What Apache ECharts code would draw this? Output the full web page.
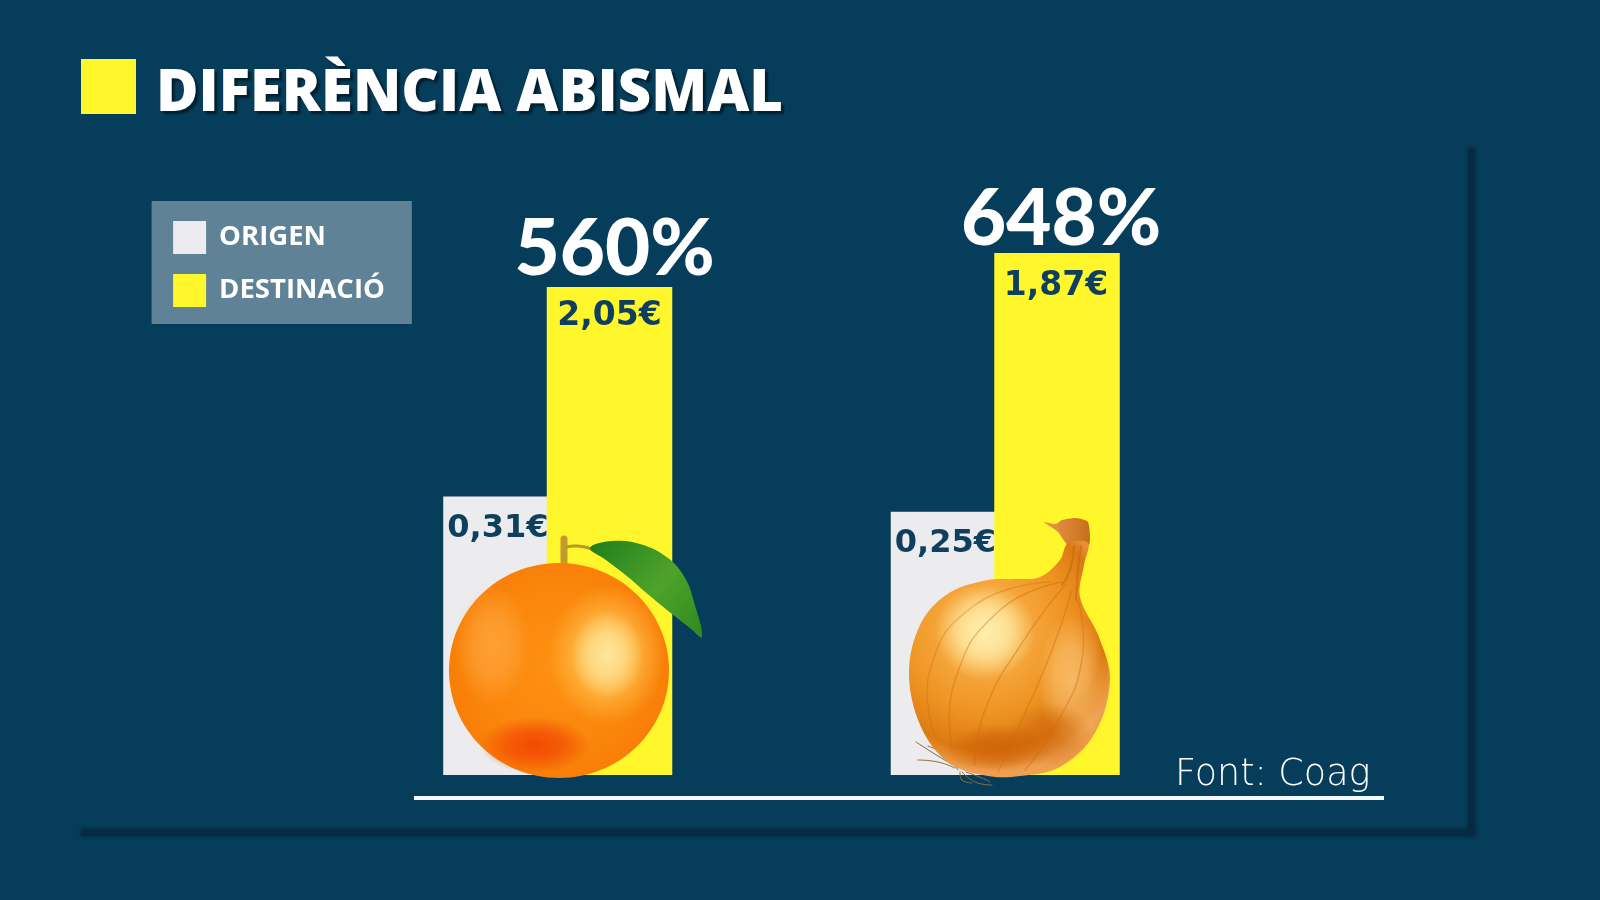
<!DOCTYPE html>
<html>
<head>
    <meta charset="utf-8">
    <script src="https://cdn.jsdelivr.net/npm/echarts@6/dist/echarts.min.js"></script>
    <style>
        html, body { margin: 0; padding: 0; background: #063d5a; }
    </style>
</head>

<body>
    <div id="main" style="width: 1600px;height:900px;"></div>
    <script type="text/javascript">
        var productes = ['Taronja', 'Ceba'];
        // the bars in the original are not drawn to scale, so the height and the printed price are separate
        var origenAlcada = [1.17, 1.106];
        var destinacioAlcada = [2.05, 2.193];
        var origenPreu = ['0,31€', '0,25€'];
        var destinacioPreu = ['2,05€', '1,87€'];
        var diferencia = ['560%', '648%'];

        var fons = '#063d5a', blau = '#0f3f5e', groc = '#fff72c', gris = '#ececee', ombra = '#032b43';

        function radial(x, y, r, stops) {
            return {
                type: 'radial', x: x, y: y, r: r, global: false,
                colorStops: stops.map(function (s) { return { offset: s[0], color: s[1] }; })
            };
        }

        // soft highlight: a circle stretched so the gradient stretches with it
        function blob(cx, cy, rx, ry, color) {
            return {
                type: 'circle', z: 10, silent: true,
                x: cx, y: cy, scaleX: rx / ry,
                shape: { cx: 0, cy: 0, r: ry },
                style: { fill: radial(0.5, 0.5, 0.5, [[0, color], [0.5, color.replace(/[\d.]+\)$/, function (a) { return parseFloat(a) * 0.7 + ')'; })], [1, color.replace(/[\d.]+\)$/, '0)')]]) }
            };
        }

        function linia(points, color, width) {
            return {
                type: 'polyline', z: 10, silent: true,
                shape: { points: points, smooth: 0.5 },
                style: { fill: null, stroke: color, lineWidth: width, lineCap: 'round' }
            };
        }

        function forma(points, fill, smooth) {
            return {
                type: 'polygon', z: 10, silent: true,
                shape: { points: points, smooth: smooth },
                style: { fill: fill }
            };
        }

        // decoration: frame shadow, baseline, title square
        var marc = [
            { type: 'rect', z: 1, silent: true, shape: { x: 1468, y: 148, width: 7, height: 688 }, style: { fill: ombra, shadowBlur: 4, shadowColor: ombra } },
            { type: 'rect', z: 1, silent: true, shape: { x: 81, y: 829, width: 1394, height: 7 }, style: { fill: ombra, shadowBlur: 4, shadowColor: ombra } },
            { type: 'rect', z: 3, silent: true, shape: { x: 414, y: 796, width: 970, height: 4 }, style: { fill: '#f2f7f8' } },
            { type: 'rect', z: 3, silent: true, shape: { x: 81, y: 59, width: 55, height: 55 }, style: { fill: groc } }
        ];

        var taronja = [
            // stem and twig
            linia([[564, 539], [564, 566]], '#c39a2b', 7),
            linia([[566, 547], [578, 546], [592, 549]], '#b59a2a', 3),
            // leaf
            forma([[590, 548], [612, 541], [640, 544], [668, 558], [685, 578], [694, 602], [702, 637], [690, 628], [672, 614], [650, 596], [628, 577], [606, 560]],
                { type: 'linear', x: 0, y: 0, x2: 1, y2: 1, colorStops: [{ offset: 0, color: '#1f7d1c' }, { offset: 0.55, color: '#4ea32a' }, { offset: 1, color: '#2e8a1f' }] }, 0.4),
            // fruit
            {
                type: 'ellipse', z: 10, silent: true,
                shape: { cx: 559, cy: 670.5, rx: 110, ry: 107.5 },
                style: { fill: radial(0.5, 0.48, 0.56, [[0, '#fd9112'], [0.65, '#fb860c'], [0.9, '#f97f08'], [1, '#f47a08']]) }
            },
            blob(607, 655, 58, 70, 'rgba(255,205,90,0.85)'),
            blob(607, 655, 36, 44, 'rgba(255,238,175,0.8)'),
            blob(492, 645, 38, 60, 'rgba(255,178,80,0.6)'),
            blob(535, 745, 55, 28, 'rgba(240,60,0,0.8)')
        ];

        var ceba = [
            // roots
            linia([[955, 766], [938, 756], [916, 742]], '#8a6a48', 1),
            linia([[955, 768], [938, 762], [918, 760]], '#8a6a48', 1),
            linia([[958, 770], [945, 755], [928, 746]], '#8a6a48', 1),
            linia([[962, 772], [975, 782], [992, 785]], '#8a6a48', 1),
            linia([[960, 772], [962, 780], [972, 783]], '#8a6a48', 1),
            linia([[966, 772], [982, 778], [990, 782]], '#8a6a48', 1),
            // neck tuft
            forma([[1044, 522], [1056, 524], [1062, 520], [1076, 518], [1088, 522], [1089, 545], [1068, 545], [1058, 532]],
                { type: 'linear', x: 0, y: 0, x2: 1, y2: 0, colorStops: [{ offset: 0, color: '#e89a48' }, { offset: 1, color: '#c86e1c' }] }, 0.2),
            // body with neck
            forma([[1068, 543], [1060, 560], [1040, 577], [1015, 579], [988, 580], [949, 593], [921, 623], [909, 673], [921, 727], [949, 763],
                [988, 776], [1020, 776], [1060, 767], [1095, 733], [1110, 680], [1099, 637], [1080, 597], [1084, 565], [1088, 543]],
                radial(0.38, 0.38, 0.7, [[0, '#ffd27a'], [0.28, '#f6a93e'], [0.6, '#ee9322'], [0.85, '#dc7a12'], [1, '#eea050']]), 0.35),
            blob(985, 632, 50, 48, 'rgba(255,240,175,0.95)'),
            blob(1072, 680, 34, 66, 'rgba(255,205,130,0.7)'),
            blob(1000, 748, 55, 24, 'rgba(205,95,5,0.8)'),
            blob(1050, 735, 42, 32, 'rgba(205,100,10,0.6)'),
            // skin stripes
            linia([[1062, 582], [1000, 610], [955, 680], [952, 750]], 'rgba(205,105,15,0.4)', 1.5),
            linia([[1066, 584], [1024, 640], [985, 710], [975, 765]], 'rgba(205,105,15,0.4)', 1.5),
            linia([[1072, 590], [1052, 650], [1022, 720], [998, 772]], 'rgba(205,105,15,0.4)', 1.5),
            linia([[1078, 600], [1082, 660], [1056, 725], [1025, 770]], 'rgba(205,105,15,0.4)', 1.5),
            linia([[1050, 582], [975, 605], [930, 670], [935, 735]], 'rgba(205,105,15,0.35)', 1.5),
            linia([[1074, 546], [1070, 570], [1062, 585]], 'rgba(190,100,20,0.5)', 2),
            linia([[1081, 546], [1078, 570], [1076, 600]], 'rgba(190,100,20,0.5)', 2)
        ];

        var myChart = echarts.init(document.getElementById('main'));
        myChart.setOption({
            backgroundColor: fons,
            animation: false,
            title: [{
                text: 'DIFERÈNCIA ABISMAL',
                left: 151,
                top: 60,
                textStyle: {
                    color: '#ffffff', fontFamily: 'Open Sans', fontWeight: 800, fontSize: 58,
                    textShadowColor: '#02202f', textShadowBlur: 2, textShadowOffsetX: 3, textShadowOffsetY: 3
                }
            }, {
                text: 'Font: Coag',
                left: 1170,
                top: 752,
                textStyle: { color: '#ffffff', fontFamily: 'DejaVu Sans', fontWeight: 200, fontSize: 36.5 }
            }],
            legend: {
                orient: 'vertical',
                left: 151.6,
                top: 201,
                padding: [20, 27, 17, 21.5],
                backgroundColor: '#5f8296',
                itemWidth: 33,
                itemHeight: 33,
                itemGap: 20,
                icon: 'rect',
                selectedMode: false,
                textStyle: { color: '#ffffff', fontFamily: 'Open Sans', fontWeight: 700, fontSize: 27.5, padding: [5, 0, 0, 8] },
                data: ['ORIGEN', 'DESTINACIÓ']
            },
            grid: { left: 334, width: 895, top: 61, height: 714 },
            xAxis: { type: 'category', data: productes, show: false },
            yAxis: { type: 'value', min: 0, max: 3, show: false },
            series: [{
                name: 'ORIGEN',
                type: 'bar',
                barWidth: 125.5,
                barGap: '-17.5%',
                itemStyle: { color: gris },
                label: {
                    show: true,
                    position: 'insideTopLeft',
                    distance: 0,
                    offset: [4, 16],
                    formatter: function (p) { return origenPreu[p.dataIndex]; },
                    color: blau, fontFamily: 'DejaVu Sans', fontWeight: 700, fontSize: 32
                },
                data: origenAlcada
            }, {
                name: 'DESTINACIÓ',
                type: 'bar',
                barWidth: 125.5,
                itemStyle: { color: groc },
                label: {
                    show: true,
                    position: 'insideTop',
                    distance: 0,
                    formatter: function (p) {
                        return '{p|' + diferencia[p.dataIndex] + '}\n{v|' + destinacioPreu[p.dataIndex] + '}';
                    },
                    rich: {
                        p: { color: '#ffffff', fontFamily: 'Lato', fontWeight: 900, fontSize: 78, height: 82, padding: [0, 0, 0, 10], align: 'center' },
                        v: { color: blau, fontFamily: 'DejaVu Sans', fontWeight: 700, fontSize: 33, height: 50, align: 'center' }
                    }
                },
                // the two labels do not sit at the same distance from their bars
                data: destinacioAlcada.map(function (v, i) {
                    return { value: v, label: { offset: i === 0 ? [0, -78] : [-1, -74] } };
                })
            }],
            graphic: { elements: marc.concat(taronja, ceba) }
        });
    </script>
</body>

</html>
